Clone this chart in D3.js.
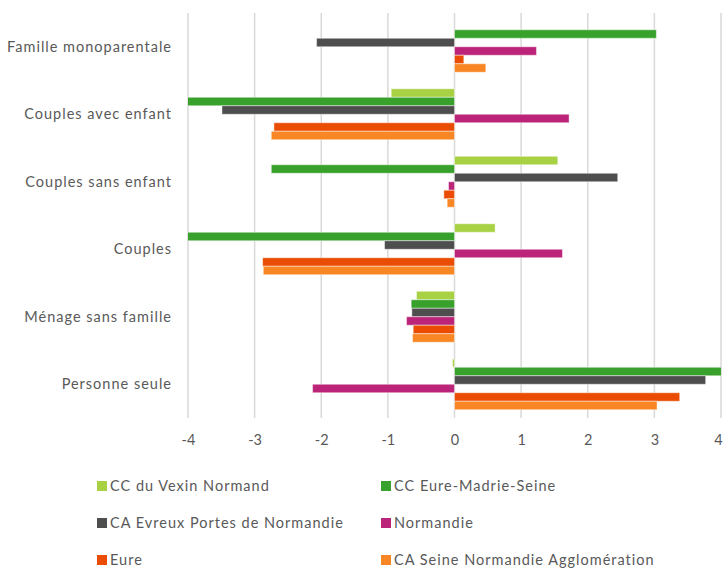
<!DOCTYPE html>
<html>
<head>
<meta charset="utf-8">
<script src="https://cdn.jsdelivr.net/npm/d3@7"></script>
<style>
  html, body { margin: 0; padding: 0; background: #fff; }
  svg text { font-family: "Lato", "Open Sans", sans-serif; fill: #595959; }
</style>
</head>
<body>
<svg id="chart" width="724" height="570"></svg>
<script>
// Categories, top to bottom
const categories = [
  "Famille monoparentale",
  "Couples avec enfant",
  "Couples sans enfant",
  "Couples",
  "Ménage sans famille",
  "Personne seule"
];

// Series names and colours
const seriesNames = [
  "CC du Vexin Normand",
  "CC Eure-Madrie-Seine",
  "CA Evreux Portes de Normandie",
  "Normandie",
  "Eure",
  "CA Seine Normandie Agglomération"
];
const seriesColors = ["#A8D144", "#38A12B", "#4E4E4E", "#BB2478", "#E94C02", "#F98624"];

// Values per series, in category order
const vexin      = [0.00, -0.95,  1.55,  0.61, -0.57, -0.03];
const madrie     = [3.03, -4.10, -2.75, -4.10, -0.65,  4.10];
const evreux     = [-2.07, -3.49, 2.45, -1.05, -0.64,  3.77];
const normandie  = [1.23,  1.72, -0.09,  1.62, -0.72, -2.13];
const eure       = [0.14, -2.71, -0.16, -2.88, -0.62,  3.38];
const seineAgglo = [0.47, -2.75, -0.11, -2.87, -0.63,  3.04];
const seriesValues = [vexin, madrie, evreux, normandie, eure, seineAgglo];

const xTicks = [-4, -3, -2, -1, 0, 1, 2, 3, 4];

const svg = d3.select("#chart");
const margin = { left: 188, right: 3, top: 13, bottom: 152 };
const W = 724, H = 570;

const x = d3.scaleLinear().domain([-4, 4]).range([margin.left, W - margin.right]);
const y = d3.scaleBand().domain(categories).range([margin.top, H - margin.bottom]).paddingInner(0.245).paddingOuter(0.1225);
const ySub = d3.scaleBand().domain(seriesNames).range([0, y.bandwidth()]);

// Gridlines
svg.append("g")
  .selectAll("line")
  .data(xTicks)
  .join("line")
  .attr("x1", d => x(d)).attr("x2", d => x(d))
  .attr("y1", margin.top).attr("y2", H - margin.bottom)
  .attr("stroke", "#D9D9D9").attr("stroke-width", 1.5);

// Clip bars to the plot area
svg.append("clipPath").attr("id", "plotClip")
  .append("rect")
  .attr("x", x(-4)).attr("y", margin.top)
  .attr("width", x(4) - x(-4)).attr("height", H - margin.bottom - margin.top);

const rows = [];
categories.forEach((c, ci) => {
  seriesNames.forEach((s, si) => {
    rows.push({ cat: c, series: s, value: seriesValues[si][ci], color: seriesColors[si] });
  });
});

svg.append("g").attr("clip-path", "url(#plotClip)")
  .selectAll("rect")
  .data(rows.filter(d => d.value !== 0))
  .join("rect")
  .attr("x", d => Math.min(x(0), x(d.value)))
  .attr("width", d => Math.abs(x(d.value) - x(0)))
  .attr("y", d => y(d.cat) + ySub(d.series))
  .attr("height", ySub.bandwidth())
  .attr("fill", d => d.color)
  .attr("stroke", "#ffffff").attr("stroke-opacity", 0.45).attr("stroke-width", 1);

// Category labels
svg.append("g")
  .selectAll("text")
  .data(categories)
  .join("text")
  .attr("x", 172)
  .attr("y", d => y(d) + y.bandwidth() / 2)
  .attr("dy", "0.35em")
  .attr("text-anchor", "end")
  .attr("font-size", 14.5)
  .attr("letter-spacing", 1)
  .text(d => d);

// X axis tick labels (plain hyphen for negatives)
const xAxis = d3.axisBottom(x).tickValues(xTicks).tickSize(0).tickPadding(0).tickFormat(d => String(d));
const gx = svg.append("g").attr("transform", `translate(0, ${H - margin.bottom})`).call(xAxis);
gx.select(".domain").remove();
gx.selectAll("text")
  .attr("y", 22)
  .attr("dy", "0.35em")
  .attr("font-size", 14.5)
  .attr("font-family", "Lato, 'Open Sans', sans-serif")
  .attr("fill", "#595959")
  .attr("dx", d => d === 4 ? -3 : 0);

// Legend, two columns
const legend = svg.append("g");
const legendCols = [97, 381];
const legendRows = [486, 523, 560];
seriesNames.forEach((s, i) => {
  const lx = legendCols[i % 2];
  const ly = legendRows[Math.floor(i / 2)];
  legend.append("rect")
    .attr("x", lx).attr("y", ly - 5)
    .attr("width", 10).attr("height", 10)
    .attr("fill", seriesColors[i]);
  legend.append("text")
    .attr("x", lx + 13).attr("y", ly)
    .attr("dy", "0.35em")
    .attr("font-size", 14.5)
    .attr("letter-spacing", 1)
    .text(s);
});
</script>
</body>
</html>
